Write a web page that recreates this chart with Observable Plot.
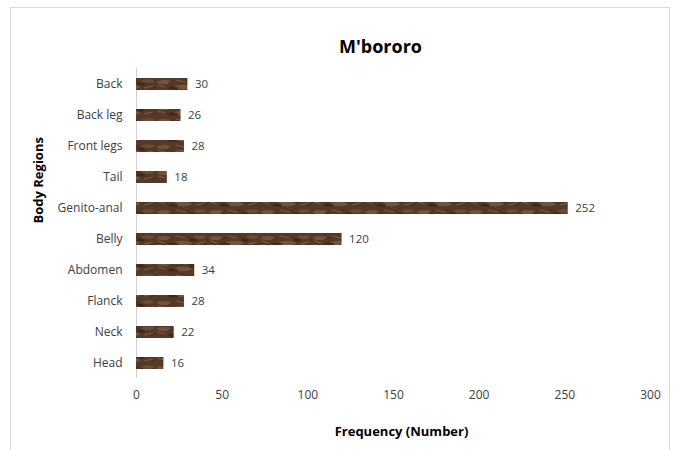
<!DOCTYPE html>
<html>
<head>
<meta charset="utf-8">
<script src="https://cdn.jsdelivr.net/npm/d3@7"></script>
<script src="https://cdn.jsdelivr.net/npm/@observablehq/plot@0.6"></script>
<style>
  html, body { margin: 0; padding: 0; background: #fff; }
  #wrap { position: relative; width: 677px; height: 450px; overflow: hidden; }
  #frame { position: absolute; left: 10px; top: 7px; width: 660px; height: 460px; border: 1px solid #d9d9d9; box-sizing: border-box; }
  #chart { position: absolute; left: 0; top: 0; }
</style>
</head>
<body>
<div id="wrap"><div id="frame"></div><div id="chart"></div></div>
<script>
const title = "M'bororo";
const xLabel = "Frequency (Number)";
const yLabel = "Body Regions";
const regions = ["Back", "Back leg", "Front legs", "Tail", "Genito-anal", "Belly", "Abdomen", "Flanck", "Neck", "Head"];
const frequencies = [30, 26, 28, 18, 252, 120, 34, 28, 22, 16];
const xTicks = [0, 50, 100, 150, 200, 250, 300];

const data = regions.map((r, i) => ({region: r, value: frequencies[i]}));
const font = "'Open Sans', 'DejaVu Sans', sans-serif";

const chart = Plot.plot({
  width: 677,
  height: 450,
  marginLeft: 136,
  marginRight: 27,
  marginTop: 68,
  marginBottom: 72,
  style: {fontFamily: font, fontSize: "12px", color: "#404040", background: "transparent"},
  x: {domain: [0, 300], ticks: xTicks, tickSize: 0, tickPadding: 12, label: null},
  y: {domain: regions, paddingInner: 0.613, paddingOuter: 0.306, tickSize: 0, tickPadding: 14, label: null},
  marks: [
    Plot.ruleX([0], {stroke: "#d0d0d0", strokeWidth: 1}),
    Plot.barX(data, {x: "value", y: "region", fill: "url(#wood)"}),
    Plot.text(data, {x: "value", y: "region", text: d => String(d.value), textAnchor: "start", dx: 7, dy: 0, fill: "#404040", fontSize: 11.5}),
    Plot.text([title], {frameAnchor: "top", dy: -28, dx: -13, fontSize: 18, fontWeight: "bold", fill: "#000"}),
    Plot.text([xLabel], {frameAnchor: "bottom", dy: 57, dx: 8, fontSize: 13, fontWeight: "bold", fill: "#000"}),
    Plot.text([yLabel], {frameAnchor: "left", dx: -98, rotate: -90, fontSize: 13, fontWeight: "bold", fill: "#000"})
  ]
});

// mottled wood-like texture pattern for the bars
const ns = "http://www.w3.org/2000/svg";
const defs = document.createElementNS(ns, "defs");
defs.innerHTML = `
<pattern id="wood" patternUnits="userSpaceOnUse" width="52" height="13">
  <rect width="52" height="13" fill="#553825"/>
  <ellipse cx="8" cy="4" rx="7" ry="2" fill="#7d5e48" opacity="0.7"/>
  <ellipse cx="27" cy="9" rx="9" ry="2.2" fill="#866650" opacity="0.6"/>
  <ellipse cx="44" cy="3" rx="6" ry="1.8" fill="#6f523e" opacity="0.8"/>
  <ellipse cx="17" cy="10" rx="5" ry="1.6" fill="#3a2316" opacity="0.8"/>
  <ellipse cx="37" cy="6" rx="4" ry="1.5" fill="#372114" opacity="0.7"/>
  <path d="M2 7 L9 9 M20 2 L29 4 M40 10 L49 8" stroke="#9c7d65" stroke-width="0.9" opacity="0.6"/>
  <path d="M12 6 L17 3 M31 2 L35 5 M47 11 L51 9" stroke="#2e1c0e" stroke-width="0.9" opacity="0.6"/>
</pattern>`;
chart.insertBefore(defs, chart.firstChild);
document.getElementById("chart").appendChild(chart);
</script>
</body>
</html>
